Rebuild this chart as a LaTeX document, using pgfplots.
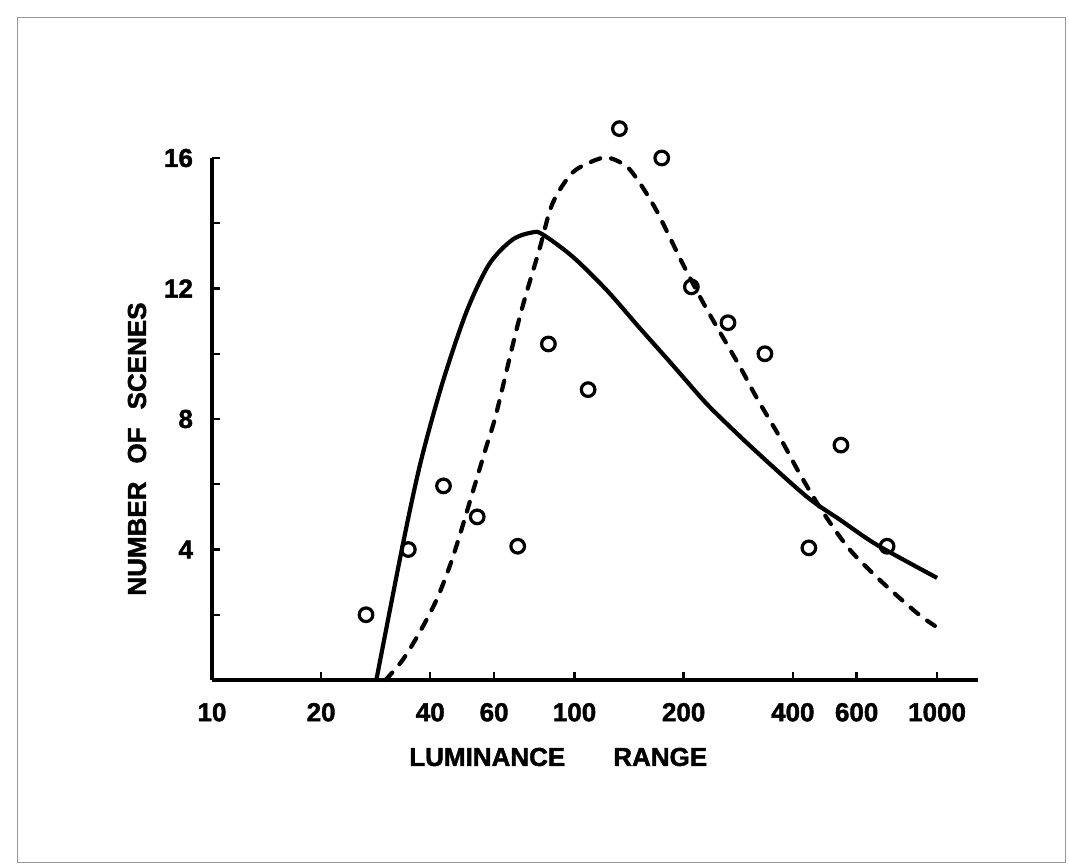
\documentclass[border=0pt]{standalone}
\usepackage{pgfplots}
\pgfplotsset{compat=1.18}
\usepackage{fontspec}
\setmainfont{Liberation Sans}[BoldFeatures={FakeBold=1.6}]
\begin{document}
\begin{tikzpicture}
\useasboundingbox (-106pt,-93.5pt) rectangle (428.5pt,340pt);
\draw[black!40, line width=0.5pt] (-97pt,-91pt) rectangle (426.5pt,331pt);
\begin{axis}[
  at={(0,0)}, anchor=south west,
  scale only axis, width=383pt, height=261pt,
  xmode=log, xmin=10, xmax=1297, ymin=0, ymax=16,
  axis x line*=bottom, axis y line*=left,
  axis line style={line width=1.6pt},
  clip=false,
  xtick={10,20,40,60,100,200,400,600,1000},
  xticklabels={10,20,40,60,100,200,400,600,1000},
  minor xtick={},
  ytick={4,8,12,16}, yticklabels={4,8,12,16},
  minor ytick={2,6,10,14},
  tick align=inside,
  major tick length=4pt, minor tick length=4pt,
  every tick/.style={line width=1.2pt, black},
  ticklabel style={font=\fontsize{13}{15}\selectfont\bfseries},
  xticklabel style={yshift=-8pt},
  yticklabel style={xshift=-6pt},
]
\addplot[only marks, mark=o, mark size=3.4pt, mark options={line width=1.6pt}] coordinates {
 (26.6,2.0) (34.8,4.0) (43.5,5.95) (53.9,5.0) (69.7,4.1) (84.7,10.3) (109,8.9)
 (133,16.9) (174,16.0) (210,12.05) (265,10.95) (335,10.0) (443,4.05) (543,7.2) (728,4.1)
};
\addplot[smooth, line width=2.1pt] coordinates {
 (28.4,0) (33.5,4.08) (37.6,6.66) (43.2,9.1) (50.4,11.3) (58.2,12.75) (67.5,13.5)
 (76.6,13.72) (81.6,13.66) (98.7,12.98) (122.4,11.96) (151,10.8) (186.6,9.65)
 (226,8.59) (256,7.98) (318,6.99) (438,5.61) (540,4.91) (683,4.14) (1000,3.13)
};
\addplot[smooth, line width=2.1pt, line cap=round, dash pattern=on 5pt off 5.5pt] coordinates {
 (30.1,0) (33.5,0.6) (37.3,1.44) (41.6,2.45) (45.2,3.47) (48.1,4.39) (52.6,5.83)
 (57.1,7.15) (60.9,8.19) (70.5,11.1) (80.0,13.2) (86.9,14.6) (98.7,15.55) (115,15.95)
 (125,16.0) (139,15.75) (151,15.25) (169,14.35) (199,12.75) (232,11.35) (286,9.6)
 (318,8.65) (368,7.45) (419,6.3) (484,5.15) (575,3.99) (710,2.97) (881,2.05) (986,1.66)
};
\node[font=\fontsize{13}{15}\selectfont\bfseries, anchor=center]
  at ([yshift=-38.5pt]axis description cs:0.452,0) {LUMINANCE\hspace{24pt}RANGE};
\node[font=\fontsize{13}{15}\selectfont\bfseries, anchor=center, rotate=90]
  at ([xshift=-37.5pt]axis description cs:0,0.4425) {NUMBER\hspace{9pt}OF\hspace{9pt}SCENES};
\end{axis}
\end{tikzpicture}
\end{document}
